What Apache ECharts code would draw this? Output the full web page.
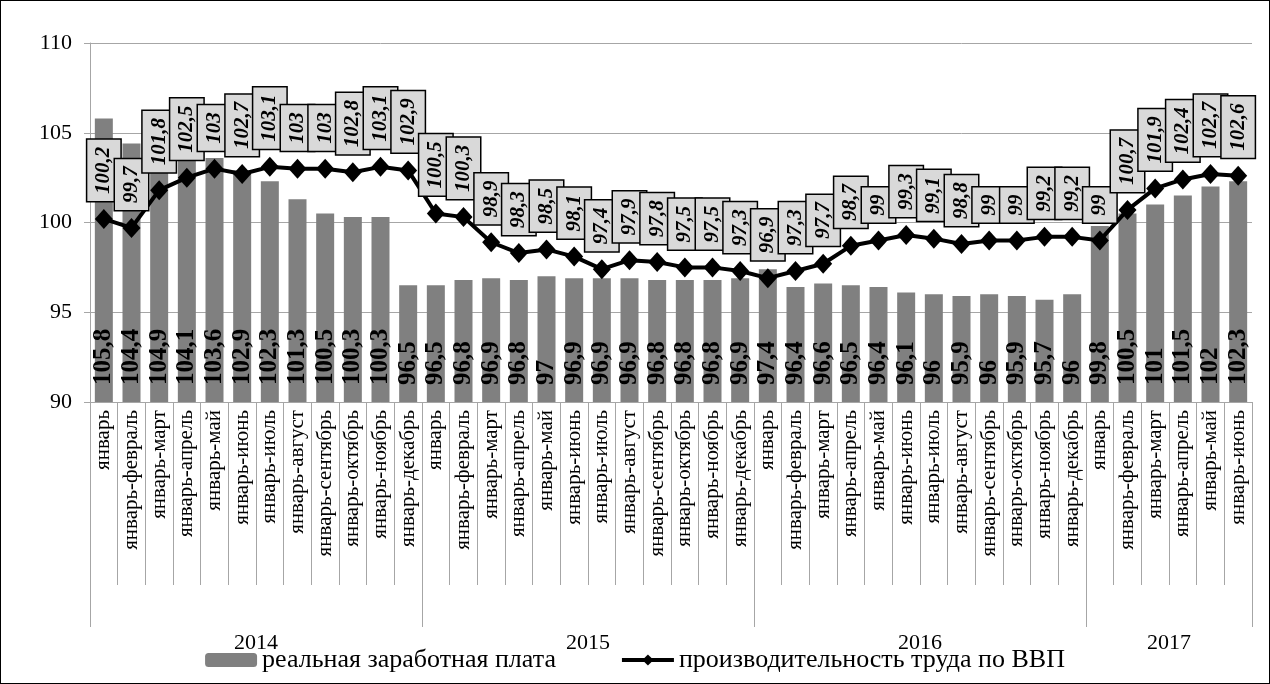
<!DOCTYPE html>
<html>
<head>
<meta charset="utf-8">
<script src="https://cdn.jsdelivr.net/npm/echarts@6/dist/echarts.min.js"></script>
<style>
  html, body { margin: 0; padding: 0; background: #fff; }
  #chart { width: 1270px; height: 684px; box-sizing: border-box; border: 1px solid #000; }
</style>
</head>
<body>
<div id="chart"></div>
<script>
const months = ['январь', 'январь-февраль', 'январь-март', 'январь-апрель', 'январь-май', 'январь-июнь',
  'январь-июль', 'январь-август', 'январь-сентябрь', 'январь-октябрь', 'январь-ноябрь', 'январь-декабрь']
const years = ['2014', '2015', '2016', '2017']
const yearMonths = [12, 12, 12, 6]

// реальная заработная плата
const wages = [
  105.8, 104.4, 104.9, 104.1, 103.6, 102.9, 102.3, 101.3, 100.5, 100.3, 100.3, 96.5,
  96.5, 96.8, 96.9, 96.8, 97, 96.9, 96.9, 96.9, 96.8, 96.8, 96.8, 96.9,
  97.4, 96.4, 96.6, 96.5, 96.4, 96.1, 96, 95.9, 96, 95.9, 95.7, 96,
  99.8, 100.5, 101, 101.5, 102, 102.3
]
// производительность труда по ВВП
const productivity = [
  100.2, 99.7, 101.8, 102.5, 103, 102.7, 103.1, 103, 103, 102.8, 103.1, 102.9,
  100.5, 100.3, 98.9, 98.3, 98.5, 98.1, 97.4, 97.9, 97.8, 97.5, 97.5, 97.3,
  96.9, 97.3, 97.7, 98.7, 99, 99.3, 99.1, 98.8, 99, 99, 99.2, 99.2,
  99, 100.7, 101.9, 102.4, 102.7, 102.6
]
const yTicks = { min: 90, max: 110, interval: 5 }

// категории и границы годов
const categories = []
const yearBounds = [0]
const yearCenters = []
years.forEach((y, i) => {
  for (let m = 0; m < yearMonths[i]; m++) categories.push(months[m])
  const start = yearBounds[yearBounds.length - 1]
  yearCenters.push(start + yearMonths[i] / 2)
  yearBounds.push(start + yearMonths[i])
})

const font = 'Liberation Serif, Times New Roman, serif'
const gray = '#a6a6a6'
const comma = v => String(v).replace('.', ',')

const chart = echarts.init(document.getElementById('chart'))
chart.setOption({
  animation: false,
  textStyle: { fontFamily: font },
  grid: { left: 89, right: 17, top: 42, bottom: 281 },
  legend: {
    top: 641,
    left: 'center',
    itemWidth: 52,
    itemHeight: 14,
    itemGap: 64,
    lineStyle: { width: 4 },
    textStyle: { fontFamily: font, fontSize: 26, color: '#000' },
    data: ['реальная заработная плата', 'производительность труда по ВВП']
  },
  xAxis: [
    {
      type: 'category',
      data: categories,
      axisLine: { lineStyle: { color: gray, width: 1 } },
      axisTick: { show: true, interval: 0, length: 183, lineStyle: { color: gray } },
      axisLabel: { interval: 0, rotate: 90, margin: 8, fontFamily: font, fontSize: 21, color: '#000' }
    },
    {
      type: 'value',
      position: 'bottom',
      min: 0,
      max: yearBounds[yearBounds.length - 1],
      axisLine: { show: false },
      splitLine: { show: false },
      axisTick: { show: true, customValues: yearBounds, length: 225, lineStyle: { color: gray } },
      axisLabel: {
        customValues: yearCenters,
        margin: 230,
        fontFamily: font,
        fontSize: 22,
        color: '#000',
        formatter: v => years[yearCenters.indexOf(v)]
      }
    }
  ],
  yAxis: {
    type: 'value',
    min: yTicks.min,
    max: yTicks.max,
    interval: yTicks.interval,
    axisLine: { show: true, lineStyle: { color: gray } },
    axisTick: { show: true, length: 6, lineStyle: { color: gray } },
    splitLine: { lineStyle: { color: gray, width: 1 } },
    axisLabel: { margin: 18, fontFamily: font, fontSize: 22, color: '#000' }
  },
  series: [
    {
      name: 'реальная заработная плата',
      type: 'bar',
      data: wages,
      barWidth: 18,
      itemStyle: { color: '#808080' },
      label: {
        show: true,
        position: 'insideBottom',
        distance: 17,
        rotate: 90,
        align: 'left',
        verticalAlign: 'middle',
        fontFamily: font,
        fontSize: 25,
        fontWeight: 'bold',
        color: '#000',
        formatter: p => comma(p.value)
      }
    },
    {
      name: 'производительность труда по ВВП',
      type: 'line',
      data: productivity,
      symbol: 'diamond',
      symbolSize: [18, 20],
      lineStyle: { color: '#000', width: 4 },
      itemStyle: { color: '#000' },
      z: 5,
      label: {
        show: true,
        position: 'top',
        distance: 8,
        rotate: 90,
        align: 'left',
        verticalAlign: 'middle',
        fontFamily: font,
        fontSize: 21,
        fontStyle: 'italic',
        fontWeight: 'bold',
        color: '#000',
        backgroundColor: '#d9d9d9',
        borderColor: '#000',
        borderWidth: 1.5,
        padding: [6, 7],
        formatter: p => comma(p.value)
      }
    }
  ]
})
window.onresize = () => {
  chart.resize()
}
</script>
</body>
</html>
